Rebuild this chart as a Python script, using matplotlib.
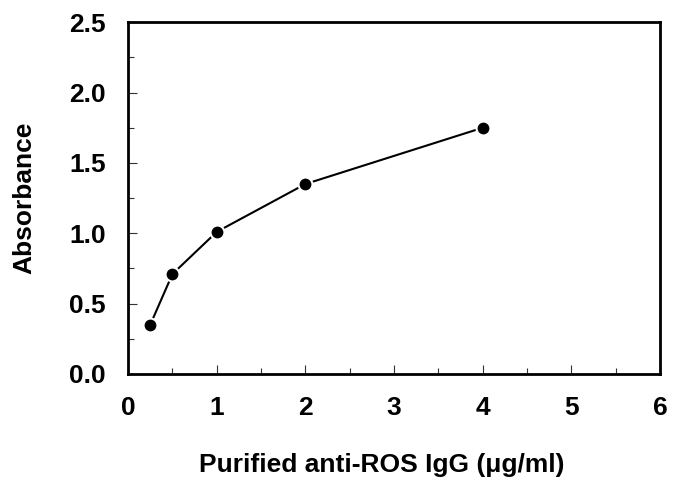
import matplotlib
matplotlib.use("Agg")
import matplotlib.pyplot as plt
from matplotlib.ticker import MultipleLocator, FormatStrFormatter

# data
conc = [0.25, 0.5, 1.0, 2.0, 4.0]
absorbance = [0.35, 0.71, 1.01, 1.35, 1.75]

plt.rcParams['font.family'] = ['Liberation Sans', 'DejaVu Sans']
plt.rcParams['font.weight'] = 'bold'

fig = plt.figure(figsize=(6.85, 4.94), dpi=100)
ax = fig.add_axes([0.187, 0.243, 0.7765, 0.712])

ax.plot(conc, absorbance, '-', color='black', lw=1.5,
        marker='o', ms=10, mfc='black', mec='white', mew=1.5)

ax.set_xlim(0, 6)
ax.set_ylim(0, 2.5)
ax.xaxis.set_major_locator(MultipleLocator(1))
ax.xaxis.set_minor_locator(MultipleLocator(0.5))
ax.yaxis.set_major_locator(MultipleLocator(0.5))
ax.yaxis.set_minor_locator(MultipleLocator(0.25))
ax.yaxis.set_major_formatter(FormatStrFormatter('%.1f'))

for s in ax.spines.values():
    s.set_linewidth(2)
ax.tick_params(which='both', direction='in', top=False, right=False,
               width=0.8, color='#333333', labelsize=19)
ax.tick_params(which='major', length=6.5)
ax.tick_params(which='minor', length=4.5)
ax.tick_params(axis='x', pad=16)
ax.tick_params(axis='y', pad=16)

ax.set_xlabel('Purified anti-ROS IgG (\u03bcg/ml)', fontsize=19,
              fontweight='bold')
ax.set_ylabel('Absorbance', fontsize=19, fontweight='bold')
ax.xaxis.set_label_coords(0.476, -0.225)
ax.yaxis.set_label_coords(-0.172, 0.5)

fig.savefig('out.png', dpi=100)
